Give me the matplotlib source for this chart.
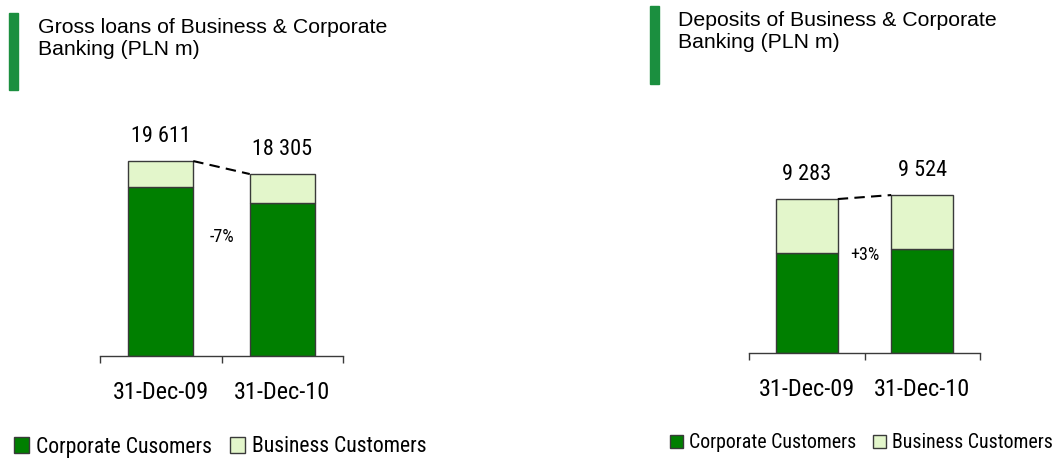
import matplotlib
matplotlib.use('Agg')
import matplotlib.pyplot as plt
from matplotlib.patches import Patch, Rectangle

# %%
dates = ['31-Dec-09', '31-Dec-10']

loans_corporate = [17000, 15400]
loans_business = [2611, 2905]

deposits_corporate = [6030, 6270]
deposits_business = [3253, 3254]

loans_title = 'Gross loans of Business & Corporate\nBanking (PLN m)'
deposits_title = 'Deposits of Business & Corporate\nBanking (PLN m)'
loans_legend = ['Corporate Cusomers', 'Business Customers']
deposits_legend = ['Corporate Customers', 'Business Customers']

# %%
dark_green = '#007f00'
light_green = '#e3f6cb'
edge = '#3a3a3a'
accent = '#1b8f3f'

narrow = 'Roboto Condensed'
regular = 'Liberation Sans'

W, H = 1061, 459
fig = plt.figure(figsize=(W / 100, H / 100), dpi=100)


def px_axes(x0, x1, y_base, y_top):
    return fig.add_axes([x0 / W, 1 - y_base / H, (x1 - x0) / W, (y_base - y_top) / H])


def stacked(ax, corp, bus, ymax, width):
    xs = range(len(dates))
    totals = [c + b for c, b in zip(corp, bus)]
    ax.bar(xs, corp, width=width, color=dark_green, edgecolor=edge, linewidth=1)
    ax.bar(xs, bus, bottom=corp, width=width, color=light_green, edgecolor=edge, linewidth=1)
    ax.set_xlim(-0.5, 1.5)
    ax.set_ylim(0, ymax)

    for x, t in zip(xs, totals):
        ax.annotate(f'{t:,}'.replace(',', ' '), (x, t), xytext=(0, 10), textcoords='offset points',
                    ha='center', va='bottom', fontsize=16, family=narrow)

    # dashed connector between bar tops
    ax.plot([width / 2, 1 - width / 2], totals, color='black', ls=(0, (5, 3)), lw=1.5)

    change = (totals[1] / totals[0] - 1) * 100
    txt = f'{change:+.0f}%' if change > 0 else f'{change:.0f}%'
    ax.text(0.5, 0.63 * sum(totals) / 2, txt, ha='center', va='center', fontsize=13, family=narrow)

    for s in ['top', 'left', 'right']:
        ax.spines[s].set_visible(False)
    ax.spines['bottom'].set_color(edge)
    ax.spines['bottom'].set_linewidth(1)
    ax.set_yticks([])
    ax.set_xticks([0, 1])
    ax.set_xticklabels(dates, fontsize=17.5, family=narrow)
    ax.tick_params(axis='x', which='major', length=0, pad=18)
    ax.set_xticks([-0.5, 0.5, 1.5], minor=True)
    ax.tick_params(axis='x', which='minor', length=5, width=1, color=edge)


ax1 = px_axes(100, 343, 356, 110)
stacked(ax1, loans_corporate, loans_business, 246 * 100.6, 0.535)

ax2 = px_axes(749, 980, 353, 110)
stacked(ax2, deposits_corporate, deposits_business, 243 * 60.3, 0.537)

# title accents and headings
fig.patches.append(Rectangle((9 / W, 1 - 90 / H), 9 / W, 77 / H, transform=fig.transFigure,
                             color=accent, zorder=3))
fig.patches.append(Rectangle((650 / W, 1 - 84 / H), 9 / W, 78 / H, transform=fig.transFigure,
                             color=accent, zorder=3))
fig.text(38 / W, 1 - 18 / H, loans_title, ha='left', va='top', fontsize=15.3, family=regular,
         linespacing=1.2)
fig.text(678 / W, 1 - 11.5 / H, deposits_title, ha='left', va='top', fontsize=15.3, family=regular,
         linespacing=1.2)


def legend(labels, x, y, size, hl):
    handles = [Patch(facecolor=dark_green, edgecolor=edge), Patch(facecolor=light_green, edgecolor=edge)]
    fig.legend(handles, labels, loc='center left', bbox_to_anchor=(x / W, 1 - y / H), ncol=2,
               frameon=False, prop={'family': narrow, 'size': size}, handlelength=hl, handleheight=hl,
               handletextpad=0.3, columnspacing=0.85, borderpad=0, borderaxespad=0)


legend(loans_legend, 14, 447, 15.6, 0.7)
legend(deposits_legend, 670, 443, 14.3, 0.66)

fig.savefig('out.png', dpi=100)
